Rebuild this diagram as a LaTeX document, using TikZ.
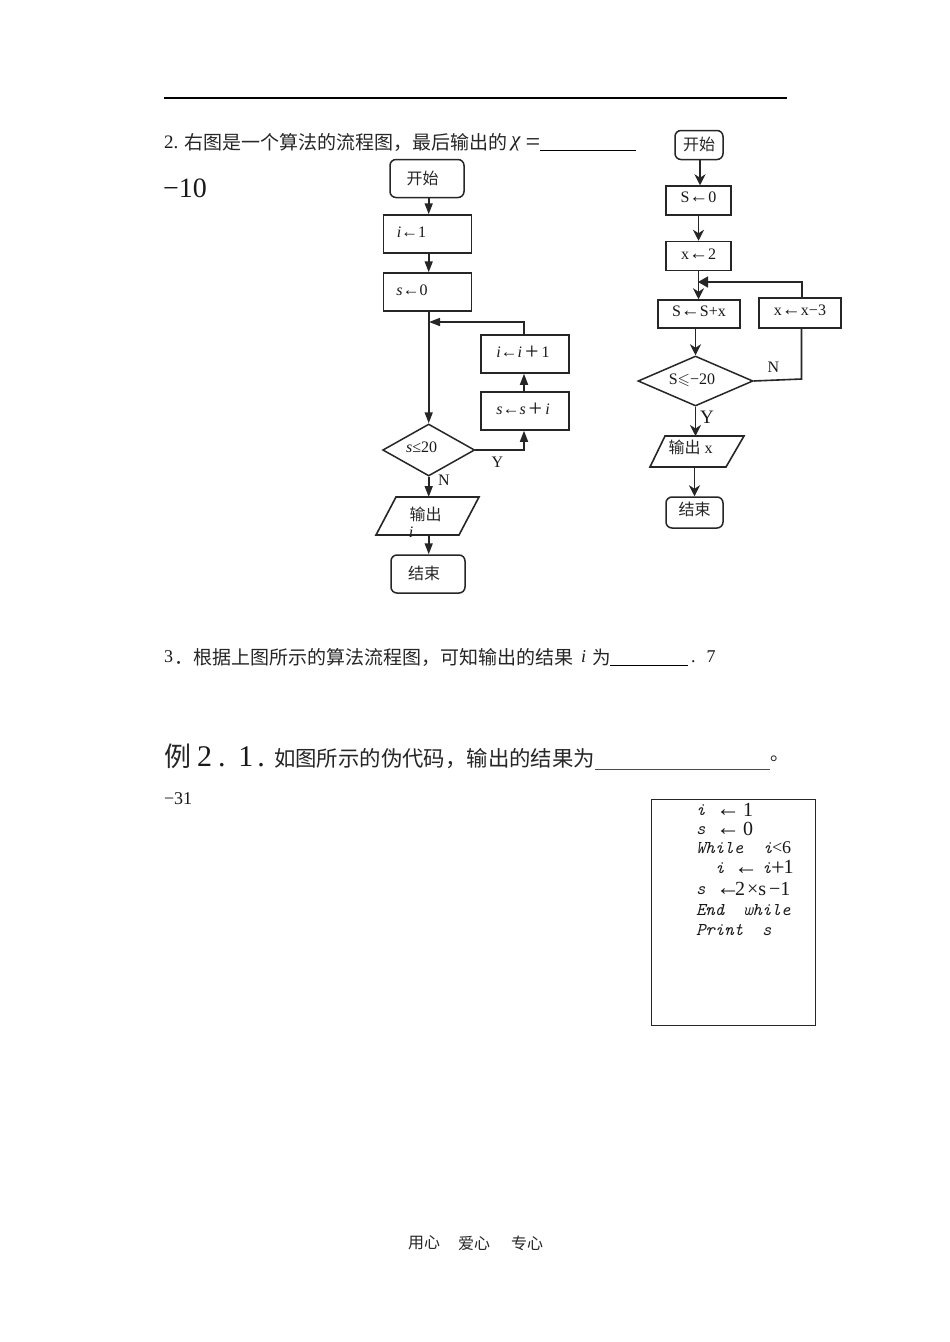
\documentclass[tikz,border=0pt]{standalone}
\usepackage{amssymb}
\usepackage{fontspec}
\setmainfont{Liberation Serif}
\newfontfamily\cjk{Noto Sans CJK SC}
\usetikzlibrary{arrows.meta,shapes.geometric}
\newcommand{\fs}[1]{\fontsize{#1}{#1}\selectfont}
\newcommand{\sarr}{{\fs{17}←}}
\newcommand{\rarr}{{\fs{19}←}}
\newcommand{\bigarr}{{\fs{24}\smash{←}}}
\newcommand{\bigplus}{\hspace{3pt}\raisebox{-2pt}{\fs{24}\smash{+}}\hspace{3pt}}
\newcommand{\cj}[1]{{\cjk\color{black!85}#1}}
\tikzset{
  bx/.style={draw=black!85,line width=1.5pt,inner sep=0pt},
  rbox/.style={bx,rounded corners=6pt},
  dia/.style={bx,shape=diamond},
  ghost/.style={inner sep=0pt,outer sep=0pt},
  lbl/.style={inner sep=0pt,outer sep=0pt,font=\fs{16},text=black!90},
  txt/.style={inner sep=0pt,outer sep=0pt,anchor=west,text=black!90},
  code/.style={txt,font=\fs{18}\ttfamily\itshape,text height=9pt,text depth=2pt,yshift=-2pt},
  arL/.style={draw=black!85,line width=1.6pt,-{Triangle[length=11pt,width=8pt]}},
  arR/.style={draw=black!85,line width=1.6pt,-{Stealth[length=11pt,width=11pt,inset=3.5pt]}},
  lin/.style={draw=black!85,line width=1.6pt},
  rul/.style={draw=black,line width=1pt},
}
\begin{document}
\begin{tikzpicture}[x=1pt,y=-1pt]
\useasboundingbox[fill=white] (0,0) rectangle (950,1342);
% header rule
\coordinate (hrA) at (164,98); \coordinate (hrB) at (787,98);
\draw[black,line width=1.5pt] (hrA) -- (hrB);
% question 2
\node[txt,font=\fs{19}] (q2a) at (164,142) {2.};
\node[txt,font=\fs{19}] (q2b) at (184,142) {\cj{右图是一个算法的流程图，最后输出的}};
\node[txt,font=\fs{21}] (q2c) at (511,144) {\textit{χ}};
\node[txt,font=\fs{26}] (q2d) at (525.5,144.5) {=};
\coordinate (u1a) at (540,150); \coordinate (u1b) at (636,150);
\draw[rul] (u1a) -- (u1b);
\node[txt,font=\fs{28}] (ans1) at (163,188) {−10};
% left flowchart
\node[rbox,minimum width=74pt,minimum height=38pt,label={[lbl,xshift=-4.5pt,yshift=0.5pt]center:\cj{开始}}] (ls) at (427,178.5) {};
\node[bx,minimum width=88pt,minimum height=38pt,label={[lbl,xshift=-16pt,yshift=2pt]center:{\textit{i}\sarr 1}}] (li) at (427.5,234) {};
\node[bx,minimum width=88pt,minimum height=38pt,label={[lbl,xshift=-15.5pt,yshift=2pt]center:{\textit{s}\sarr 0}}] (lz) at (427.5,292) {};
\node[bx,minimum width=88pt,minimum height=38pt,label={[lbl,xshift=-2pt,yshift=1pt]center:{\textit{i}\sarr\textit{i}\bigplus 1}}] (lp) at (525,354) {};
\node[bx,minimum width=88pt,minimum height=38pt,label={[lbl,xshift=-2pt,yshift=1pt]center:{\textit{s}\sarr\textit{s}\bigplus\textit{i}}}] (lq) at (525,411) {};
\node[dia,minimum width=92pt,minimum height=52pt,label={[lbl,xshift=-7pt,yshift=3pt]center:{\textit{s}≤20}}] (ld) at (428.7,450) {};
\node[ghost,minimum width=103pt,minimum height=38pt] (lo) at (427.5,516) {};
\draw[lin] ([xshift=20pt]lo.north west) -- (lo.north east) -- ([xshift=-20pt]lo.south east) -- (lo.south west) -- cycle;
\node[lbl] (lot) at (425.5,514) {\cj{输出}};
\node[lbl] (loi) at (411,532.5) {\textit{i}};
\node[rbox,minimum width=74pt,minimum height=38pt,label={[lbl,xshift=-4pt,yshift=0.5pt]center:\cj{结束}}] (le) at (428,574) {};
\draw[arL] (ls.south -| ld.north) -- (li.north -| ld.north);
\draw[arL] (li.south -| ld.north) -- (lz.north -| ld.north);
\draw[arL] (lz.south -| ld.north) -- (ld.north);
\coordinate (ljoin) at (429,322);
\coordinate (lx) at (524,400);
\draw[arL] (lp.north -| lx) |- (ljoin);
\draw[arL] (ld.east) -| (lq.south -| lx);
\draw[arL] (lq.north -| lx) -- (lp.south -| lx);
\draw[arL] (ld.south) -- (lo.north -| ld.south);
\draw[arL] (lo.south -| ld.south) -- (le.north -| ld.south);
\node[lbl] (ly) at (497.5,462) {Y};
\node[lbl] (ln) at (444,480.5) {N};
% right flowchart
\node[rbox,minimum width=48pt,minimum height=29pt,label={[lbl,yshift=1pt]center:\cj{开始}}] (rs) at (699,145) {};
\node[bx,minimum width=65pt,minimum height=29pt,label={[lbl,yshift=3pt]center:{S\rarr 0}}] (r0) at (698.5,200.5) {};
\node[bx,minimum width=65pt,minimum height=29pt,label={[lbl,yshift=2pt]center:{x\rarr 2}}] (r2) at (698.5,256) {};
\node[bx,minimum width=82pt,minimum height=28pt,label={[lbl,yshift=3pt]center:{S\rarr S+x}}] (ra) at (699,314) {};
\node[bx,minimum width=82pt,minimum height=30pt,label={[lbl,yshift=3pt]center:{x\rarr x−3}}] (rb) at (800,313) {};
\node[dia,minimum width=115pt,minimum height=50pt,label={[lbl,xshift=-3.5pt,yshift=1pt]center:{S$\leqslant$−20}}] (rd) at (695.5,381) {};
\node[ghost,minimum width=94pt,minimum height=31pt] (ro) at (697,451.5) {};
\draw[lin] ([xshift=15pt]ro.north west) -- (ro.north east) -- ([xshift=-18pt]ro.south east) -- (ro.south west) -- cycle;
\node[lbl] (rot) at (690.5,447) {\cj{输出}\ x};
\node[rbox,minimum width=57pt,minimum height=31pt,label={[lbl,xshift=0pt,yshift=3pt]center:\cj{结束}}] (re) at (694.5,512.5) {};
\coordinate (rx) at (700,170);
\coordinate (rfx) at (802,290);
\draw[arR] (rs.south -| rx) -- (r0.north -| rx);
\draw[arR] (r0.south) -- (r2.north);
\draw[arR] (r2.south) -- (ra.north -| r2.south);
\coordinate (rjoin) at (698,282);
\draw[draw=black!85,line width=1.6pt,-{Triangle[length=10pt,width=11pt]}] (rb.north -| rfx) |- (rjoin);
\draw[arR] (ra.south -| rd.north) -- (rd.north);
\draw[arR] (rd.south) -- (ro.north -| rd.south);
\draw[arR] (ro.south -| re.north) -- (re.north);
\coordinate (rk) at (801.5,379);
\draw[lin] (rd.east) -- (rk) -- (rb.south -| rk);
\node[lbl] (rn) at (773.5,367) {N};
\node[lbl,font=\fs{19}] (ry) at (707,417) {Y};
% question 3
\node[txt,font=\fs{18}] (q3a) at (164,657) {3};
\node[txt,font=\fs{19}] (q3b) at (174,657) {\cj{．根据上图所示的算法流程图，可知输出的结果}};
\node[txt,font=\fs{18}] (q3c) at (581,657) {\textit{i}};
\node[txt,font=\fs{18.5}] (q3d) at (592,657) {\cj{为}};
\coordinate (u2a) at (610,665); \coordinate (u2b) at (688,665);
\draw[rul] (u2a) -- (u2b);
\node[txt,font=\fs{18}] (q3e) at (691,657) {.\hspace{11pt}7};
% example
\node[txt,font=\fs{27}] (exa) at (164,756) {\cj{例}};
\node[txt,font=\fs{30}] (exb) at (197,757) {2\hspace{6pt}.\hspace{13pt}1\hspace{4pt}.};
\node[txt,font=\fs{21.4}] (exf) at (274,759) {\cj{如图所示的伪代码，输出的结果为}};
\coordinate (u3a) at (595,769); \coordinate (u3b) at (770,769);
\draw[draw=black!70,line width=0.7pt] (u3a) -- (u3b);
\node[txt,font=\fs{19}] (exg) at (770,759) {\cj{。}};
\node[txt,font=\fs{18}] (ans3) at (164,799) {−31};
% pseudo-code box
\node[draw=black!85,line width=1pt,inner sep=0pt,minimum width=164pt,minimum height=226pt] (pc) at (733.5,912) {};
\node[code] (c1) at (696,810) {i};
\node[txt,font=\fs{20}] (c1b) at (716,810) {\bigarr\hspace{3pt}1};
\node[code] (c2) at (696,829) {s};
\node[txt,font=\fs{20}] (c2b) at (716,829) {\bigarr\hspace{3pt}0};
\node[code] (c3) at (696,848) {While};
\node[code] (c3b) at (763,848) {i};
\node[txt,font=\fs{18}] (c3c) at (772,848) {<6};
\node[code] (c4) at (715,868) {i};
\node[txt,font=\fs{20}] (c4b) at (734,868) {\bigarr\vphantom{1}};
\node[code] (c4c) at (762,868) {i};
\node[txt,font=\fs{20}] (c4d) at (771,868) {\raisebox{-2pt}{\fs{24}\smash{+}}\hspace{-1pt}1};
\node[code] (c5) at (696,889) {s};
\node[txt,font=\fs{20}] (c5b) at (716,889) {\bigarr\vphantom{1}};
\node[txt,font=\fs{20}] (c5d) at (735,889) {2};
\node[txt,font=\fs{20}] (c5c) at (747,889) {×s\hspace{3pt}−1};
\node[code] (c6) at (696,910) {End\ \ while};
\node[code] (c7) at (696,930) {Print\ \ s};
% footer
\node[txt,font=\fs{16}] (f1) at (408,1243) {\cj{用心}};
\node[txt,font=\fs{16}] (f2) at (458,1243) {\cj{爱心}};
\node[txt,font=\fs{16}] (f3) at (511,1243) {\cj{专心}};
\end{tikzpicture}
\end{document}
